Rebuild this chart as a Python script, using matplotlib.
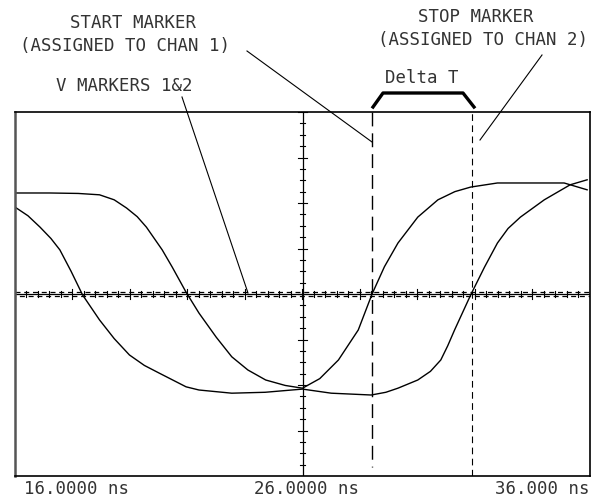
import matplotlib.pyplot as plt
import numpy as np

# scope trace samples (time in ns, volts in divisions)
ch1_t = [16.0, 16.45, 16.87, 17.25, 17.56, 17.95, 18.35, 18.94, 19.45, 19.98,
         20.5, 21.02, 21.95, 22.40, 23.54, 24.7, 26.0, 27.0, 28.39, 28.9,
         29.32, 30.01, 30.45, 30.81, 31.05, 31.29, 31.85, 32.33, 32.78, 33.15,
         33.58, 34.41, 34.9, 35.31, 35.9]
ch1_v = [1.91, 1.72, 1.47, 1.22, 0.97, 0.50, -0.02, -0.57, -0.98, -1.34,
         -1.57, -1.74, -2.04, -2.11, -2.18, -2.16, -2.09, -2.18, -2.22, -2.16,
         -2.07, -1.89, -1.70, -1.45, -1.14, -0.79, -0.02, 0.59, 1.12, 1.44,
         1.69, 2.07, 2.25, 2.40, 2.51]

ch2_t = [16.0, 17.21, 18.2, 18.94, 19.45, 19.88, 20.25, 20.57, 21.12, 21.47,
         21.95, 22.40, 23.0, 23.54, 24.1, 24.72, 25.4, 26.0, 26.6, 27.25,
         27.94, 28.42, 28.85, 29.32, 30.01, 30.71, 31.3, 31.85, 32.78, 35.1,
         35.9]
ch2_v = [2.22, 2.22, 2.21, 2.18, 2.07, 1.89, 1.70, 1.47, 0.97, 0.59,
         0.04, -0.42, -0.95, -1.38, -1.67, -1.89, -2.01, -2.07, -1.86, -1.45,
         -0.79, 0.0, 0.60, 1.12, 1.69, 2.07, 2.25, 2.35, 2.44, 2.44,
         2.29]

start_marker = 28.42
stop_marker = 31.88
v_marker = 0.0

x_labels = ['16.0000 ns', '26.0000 ns', '36.000 ns']

W, H = 599, 500
fig = plt.figure(figsize=(W / 100, H / 100), dpi=100)
fig.patch.set_facecolor('white')

# screen area, pixel box 15..590 x 112..476
ax = fig.add_axes([15 / W, (H - 476) / H, 575 / W, 364 / H])
ax.set_xlim(16, 36)
ax.set_ylim(-4, 4)
ax.set_xticks([])
ax.set_yticks([])
for s in ax.spines.values():
    s.set_linewidth(1.2)
    s.set_color('black')
ax.spines['left'].set_color('#555555')
ax.spines['left'].set_linewidth(1.8)

# centre graticule with ticks
ax.axvline(26, color='black', lw=0.9)
ax.axhline(0, color='black', lw=0.9)
for v in np.arange(-4, 4.01, 0.25):
    major = abs(v - round(v)) < 1e-6
    hw = 0.17 if major else 0.09
    ax.plot([26 - hw, 26 + hw], [v, v], color='black', lw=0.8)
for t in np.arange(16, 36.01, 0.4):
    major = abs((t - 16) / 2 - round((t - 16) / 2)) < 1e-6
    hv = 0.12 if major else 0.07
    ax.plot([t, t], [-hv, hv], color='black', lw=0.8)

# V markers 1 & 2 sitting on top of each other
ax.axhline(v_marker + 0.05, color='black', lw=0.9, linestyle=(0, (4, 3)))
ax.axhline(v_marker - 0.05, color='black', lw=0.9, linestyle=(3.5, (4, 3)))

# time markers
ax.plot([start_marker, start_marker], [4, -3.8], color='black', lw=1.0,
        linestyle=(0, (10, 5)))
ax.axvline(stop_marker, color='black', lw=0.8, linestyle=(0, (6, 4)))

ax.plot(ch1_t, ch1_v, color='black', lw=1.0)
ax.plot(ch2_t, ch2_v, color='black', lw=1.0)

# overlay in pixel coordinates for the annotations
ov = fig.add_axes([0, 0, 1, 1], facecolor='none')
ov.set_xlim(0, W)
ov.set_ylim(H, 0)
ov.axis('off')

font = dict(family='DejaVu Sans Mono', fontsize=12.5, color='#333333',
            ha='center', va='center')
ov.text(133, 23, 'START MARKER', **font)
ov.text(125, 46, '(ASSIGNED TO CHAN 1)', **font)
ov.text(124, 86, 'V MARKERS 1&2', **font)
ov.text(476, 17, 'STOP MARKER', **font)
ov.text(483, 40, '(ASSIGNED TO CHAN 2)', **font)
ov.text(422, 78, 'Delta T', **font)

ov.text(77, 489, x_labels[0], **font)
ov.text(307, 489, x_labels[1], **font)
ov.text(542, 489, x_labels[2], **font)

# leader lines
ov.plot([247, 372], [51, 142], color='black', lw=0.8)
ov.plot([542, 480], [55, 140], color='black', lw=0.8)
ov.plot([182, 248], [97, 293], color='black', lw=0.8)

# Delta T bracket
ov.plot([373, 383, 463, 474], [107, 93, 93, 107], color='black', lw=2.4,
        solid_joinstyle='round')

fig.savefig('out.png', dpi=100, facecolor='white')
